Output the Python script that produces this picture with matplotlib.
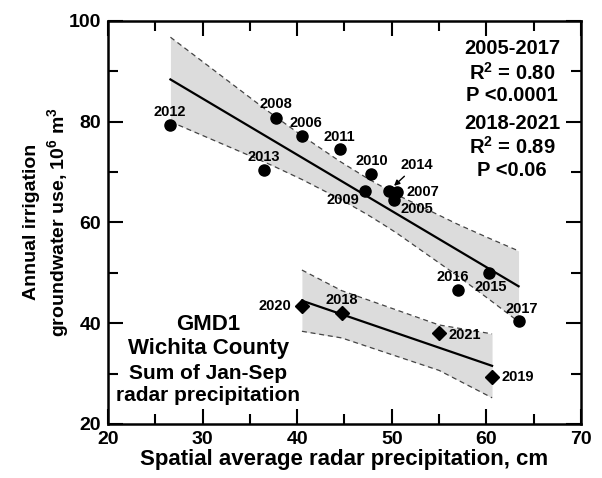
import numpy as np
import matplotlib
matplotlib.use("Agg")
import matplotlib.pyplot as plt

# 2005-2017 (circles)
years_a = [2005, 2006, 2007, 2008, 2009, 2010, 2011, 2012, 2013, 2014, 2015, 2016, 2017]
precip_a = [50.2, 40.5, 50.6, 37.8, 47.2, 47.8, 44.5, 26.6, 36.5, 49.7, 60.3, 57.0, 63.4]
water_a = [64.4, 77.2, 66.0, 80.7, 66.3, 69.6, 74.5, 79.4, 70.4, 66.3, 49.9, 46.5, 40.4]

# 2018-2021 (diamonds)
years_b = [2018, 2019, 2020, 2021]
precip_b = [44.7, 60.6, 40.5, 55.0]
water_b = [42.1, 29.4, 43.4, 38.0]

# label offsets in pixels (dx, dy), dy positive = up
label_off_a = [(23, -9), (4, 13), (25, 0), (-1, 14), (-22, -9), (1, 13), (0, 12),
               (-1, 13), (0, 13), (28, 26), (2, -14), (-5, 13), (3, 12)]
label_off_b = [(0, 13), (26, 0), (-27, 0), (26, -2)]

stats_a = ["2005-2017", "R$^2$ = 0.80", "P <0.0001"]
stats_b = ["2018-2021", "R$^2$ = 0.89", "P <0.06"]
site_text = ["GMD1", "Wichita County", "Sum of Jan-Sep", "radar precipitation"]

plt.rcParams['font.family'] = ['Liberation Sans', 'DejaVu Sans']
plt.rcParams['font.weight'] = 'bold'
plt.rcParams['mathtext.fontset'] = 'custom'
plt.rcParams['mathtext.rm'] = 'Liberation Sans:bold'
plt.rcParams['mathtext.default'] = 'rm'


def fit_band(x, y, t):
    x = np.asarray(x, float)
    y = np.asarray(y, float)
    n = len(x)
    slope, icpt = np.polyfit(x, y, 1)
    resid = y - (slope * x + icpt)
    s = np.sqrt(np.sum(resid ** 2) / (n - 2))
    xm = x.mean()
    sxx = np.sum((x - xm) ** 2)
    xs = np.sort(x)
    yhat = slope * xs + icpt
    se = s * np.sqrt(1.0 / n + (xs - xm) ** 2 / sxx)
    return xs, yhat, yhat - t * se, yhat + t * se


fig = plt.figure(figsize=(6.02, 4.78), dpi=100)
ax = fig.add_axes([0.1794, 0.113, 0.7857, 0.8437])

for px, wy, t in [(precip_a, water_a, 2.201), (precip_b, water_b, 2.92)]:
    xs, yhat, lo, hi = fit_band(px, wy, t)
    ax.fill_between(xs, lo, hi, color='#dcdcdc', lw=0, zorder=1)
    ax.plot(xs, lo, color='#444444', lw=0.9, ls=(0, (4, 3)), zorder=2)
    ax.plot(xs, hi, color='#444444', lw=0.9, ls=(0, (4, 3)), zorder=2)
    ax.plot(xs, yhat, color='black', lw=1.6, zorder=3)

ax.plot(precip_a, water_a, 'o', color='black', ms=8, zorder=4)
ax.plot(precip_b, water_b, 'D', color='black', ms=7.5, zorder=4)

for yr, x, y, off in zip(years_a, precip_a, water_a, label_off_a):
    if yr == 2014:
        ax.annotate(str(yr), (x, y), xytext=(off[0], off[1]), textcoords='offset pixels',
                    ha='center', va='center', fontsize=10.5, fontweight='bold',
                    arrowprops=dict(arrowstyle='-|>', color='black', lw=1,
                                    mutation_scale=8, shrinkA=2, shrinkB=5))
    else:
        ax.annotate(str(yr), (x, y), xytext=(off[0], off[1]), textcoords='offset pixels',
                    ha='center', va='center', fontsize=10.5, fontweight='bold')

for yr, x, y, off in zip(years_b, precip_b, water_b, label_off_b):
    ax.annotate(str(yr), (x, y), xytext=(off[0], off[1]), textcoords='offset pixels',
                ha='center', va='center', fontsize=10.5, fontweight='bold')

for txt, yy in zip(stats_a + stats_b, [94.5, 89.6, 85.1, 79.6, 74.9, 70.3]):
    ax.text(62.7, yy, txt, ha='center', va='center', fontsize=14.5, fontweight='bold')

for txt, yy, fs in zip(site_text, [39.8, 35.0, 30.1, 25.7], [16, 16, 15, 15]):
    ax.text(30.6, yy, txt, ha='center', va='center', fontsize=fs, fontweight='bold')

ax.set_xlim(20, 70)
ax.set_ylim(20, 100)
ax.set_xticks(np.arange(20, 71, 10))
ax.set_xticks(np.arange(25, 70, 10), minor=True)
ax.set_yticks(np.arange(20, 101, 20))
ax.set_yticks(np.arange(30, 100, 20), minor=True)
ax.tick_params(which='both', direction='in', top=True, right=True, width=1.5, labelsize=14)
ax.tick_params(which='major', length=11, pad=5)
ax.tick_params(which='minor', length=7)
for lab in ax.get_xticklabels() + ax.get_yticklabels():
    lab.set_fontweight('bold')
for sp in ax.spines.values():
    sp.set_linewidth(1.8)

ax.set_xlabel("Spatial average radar precipitation, cm", fontsize=16, fontweight='bold', labelpad=1)
ax.set_ylabel("Annual irrigation\ngroundwater use, 10$^6$ m$^3$", fontsize=14,
              fontweight='bold', labelpad=-2, linespacing=1.3)

fig.savefig("out.png", dpi=100)
